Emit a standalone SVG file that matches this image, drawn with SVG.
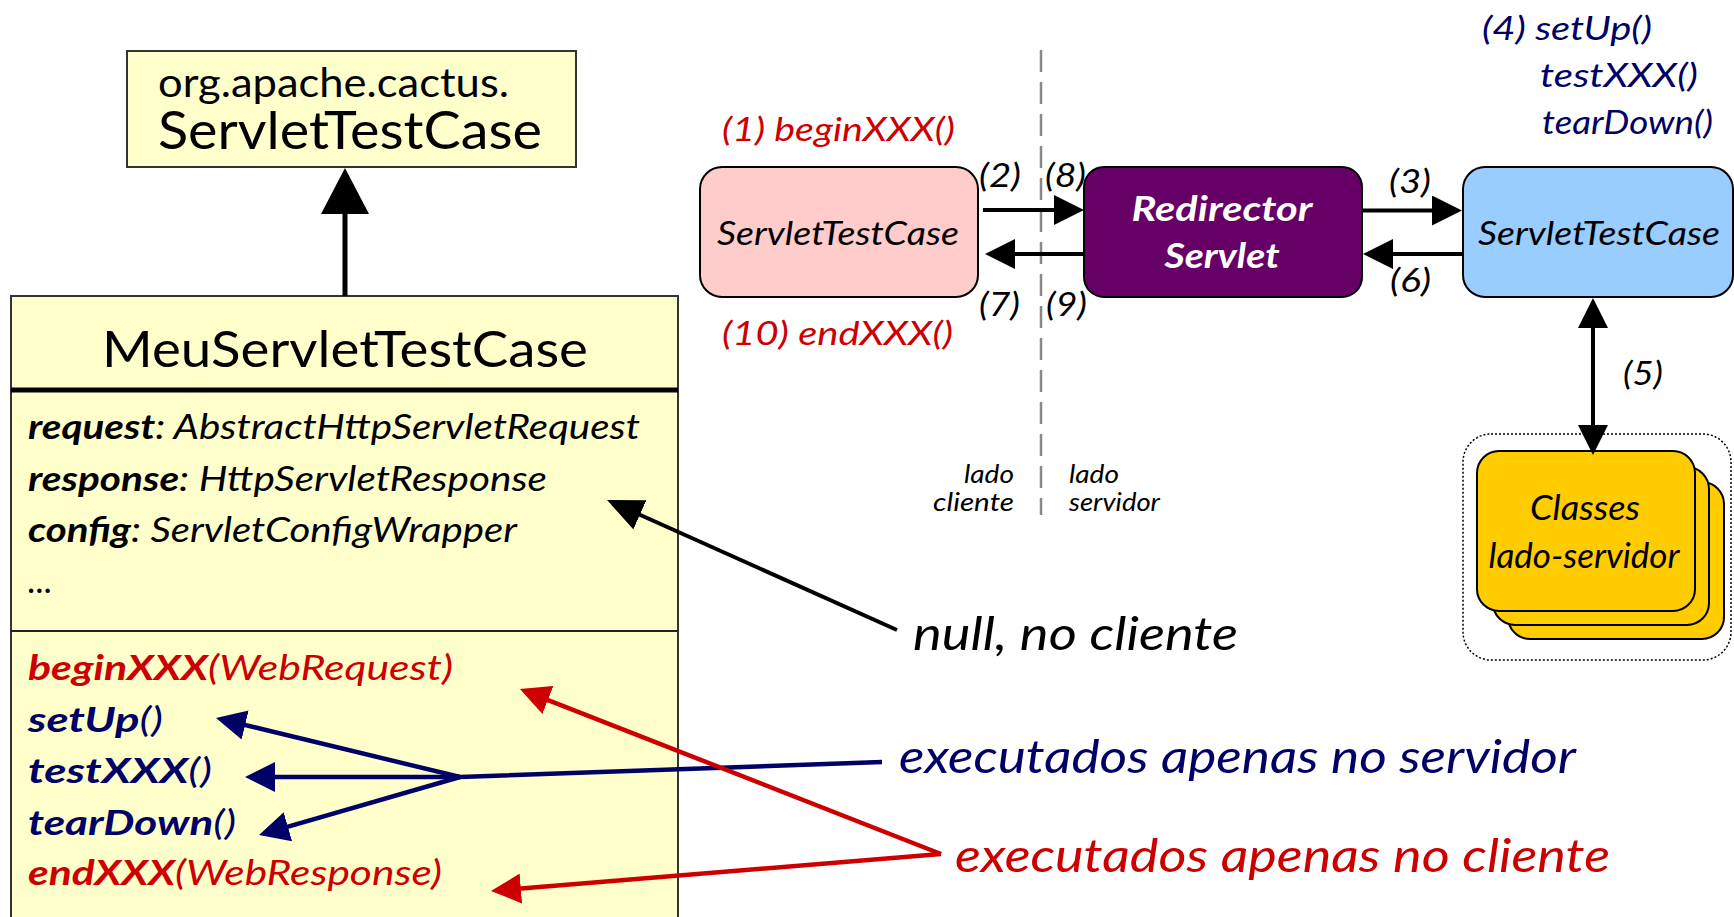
<svg xmlns="http://www.w3.org/2000/svg" width="1734" height="917" viewBox="0 0 1734 917">
<style>
text{font-family:Lato,"Open Sans","DejaVu Sans",sans-serif;}
.it{font-style:italic;}
.b{font-weight:bold;}
.box{fill:#FFFFCC;stroke:#333;stroke-width:2;}
.rnd{stroke:#000;stroke-width:2;}
.blk{stroke:#000;stroke-width:4;fill:none;}
.navy{fill:#000066;}
.red{fill:#CC0000;}
.nl{stroke:#000066;stroke-width:4.5;fill:none;}
.rl{stroke:#CC0000;stroke-width:4.5;fill:none;}
.num{font-style:italic;font-size:32px;fill:#000;}
</style>
<defs>
<marker id="inh" markerUnits="userSpaceOnUse" markerWidth="46" markerHeight="48" refX="14" refY="24" orient="auto"><path d="M0,0 L46,24 L0,48 z" fill="#000"/></marker>
<marker id="ab" markerUnits="userSpaceOnUse" markerWidth="30" markerHeight="30" refX="6" refY="15" orient="auto-start-reverse"><path d="M0,0 L30,15 L0,30 z" fill="#000"/></marker>
<marker id="ap" markerUnits="userSpaceOnUse" markerWidth="36" markerHeight="32" refX="8" refY="16" orient="auto"><path d="M0,0 L36,16 L0,32 z" fill="#000"/></marker>
<marker id="an" markerUnits="userSpaceOnUse" markerWidth="30" markerHeight="30" refX="6" refY="15" orient="auto"><path d="M0,0 L30,15 L0,30 z" fill="#000066"/></marker>
<marker id="ar" markerUnits="userSpaceOnUse" markerWidth="30" markerHeight="30" refX="6" refY="15" orient="auto"><path d="M0,0 L30,15 L0,30 z" fill="#CC0000"/></marker>
</defs>

<g id="superclass">
<rect class="box" x="127" y="51" width="449" height="116" stroke-width="1.5"/>
<text x="158" y="97" font-size="40" textLength="351" lengthAdjust="spacingAndGlyphs">org.apache.cactus.</text>
<text x="158" y="149" font-size="53" textLength="384" lengthAdjust="spacingAndGlyphs">ServletTestCase</text>
</g>

<g id="meuservlettestcase">
<rect class="box" x="11" y="296" width="667" height="640"/>
<line x1="11" y1="390" x2="678" y2="390" stroke="#000" stroke-width="5"/>
<line x1="11" y1="631" x2="678" y2="631" stroke="#222" stroke-width="2"/>
<text x="345" y="367" font-size="50" text-anchor="middle" textLength="486" lengthAdjust="spacingAndGlyphs">MeuServletTestCase</text>
<text class="it" x="28" y="439" font-size="35" textLength="612" lengthAdjust="spacingAndGlyphs"><tspan class="b">request</tspan>: AbstractHttpServletRequest</text>
<text class="it" x="28" y="491" font-size="35" textLength="519" lengthAdjust="spacingAndGlyphs"><tspan class="b">response</tspan>: HttpServletResponse</text>
<text class="it" x="28" y="542" font-size="35" textLength="489" lengthAdjust="spacingAndGlyphs"><tspan class="b">config</tspan>: ServletConfigWrapper</text>
<text class="it" x="28" y="593" font-size="35">...</text>
<text class="it red" x="28" y="680" font-size="35" textLength="425" lengthAdjust="spacingAndGlyphs"><tspan class="b">beginXXX</tspan>(WebRequest)</text>
<text class="it navy" x="28" y="732" font-size="35" textLength="135" lengthAdjust="spacingAndGlyphs"><tspan class="b">setUp</tspan>()</text>
<text class="it navy" x="28" y="783" font-size="35" textLength="184" lengthAdjust="spacingAndGlyphs"><tspan class="b">testXXX</tspan>()</text>
<text class="it navy" x="28" y="835" font-size="35" textLength="208" lengthAdjust="spacingAndGlyphs"><tspan class="b">tearDown</tspan>()</text>
<text class="it red" x="28" y="885" font-size="35" textLength="414" lengthAdjust="spacingAndGlyphs"><tspan class="b">endXXX</tspan>(WebResponse)</text>
</g>

<g id="divider">
<line x1="1041" y1="50" x2="1041" y2="515" stroke="#888" stroke-width="2.5" stroke-dasharray="22 10"/>
<text class="it" x="1014" y="483" font-size="25" text-anchor="end" textLength="50" lengthAdjust="spacingAndGlyphs">lado</text>
<text class="it" x="1014" y="511" font-size="25" text-anchor="end" textLength="81" lengthAdjust="spacingAndGlyphs">cliente</text>
<text class="it" x="1069" y="483" font-size="25" textLength="50" lengthAdjust="spacingAndGlyphs">lado</text>
<text class="it" x="1069" y="511" font-size="25" textLength="91" lengthAdjust="spacingAndGlyphs">servidor</text>
</g>

<g id="client-testcase">
<rect class="rnd" x="700" y="167" width="278" height="130" rx="22" fill="#FFCCCC"/>
<text class="it" x="838" y="245" font-size="33" text-anchor="middle" textLength="242" lengthAdjust="spacingAndGlyphs">ServletTestCase</text>
<text class="it red" x="722" y="141" font-size="33" textLength="233" lengthAdjust="spacingAndGlyphs">(1) beginXXX()</text>
<text class="it red" x="722" y="345" font-size="33" textLength="231" lengthAdjust="spacingAndGlyphs">(10) endXXX()</text>
</g>

<g id="redirector">
<rect class="rnd" x="1084" y="167" width="278" height="130" rx="20" fill="#660066"/>
<text class="it b" x="1222" y="221" font-size="34" fill="#fff" text-anchor="middle" textLength="181" lengthAdjust="spacingAndGlyphs">Redirector</text>
<text class="it b" x="1222" y="268" font-size="34" fill="#fff" text-anchor="middle" textLength="115" lengthAdjust="spacingAndGlyphs">Servlet</text>
</g>

<g id="server-testcase">
<rect class="rnd" x="1463" y="167" width="270" height="130" rx="22" fill="#99CCFF"/>
<text class="it" x="1599" y="245" font-size="33" text-anchor="middle" textLength="242" lengthAdjust="spacingAndGlyphs">ServletTestCase</text>
<text class="it navy" x="1482" y="40" font-size="33" textLength="170" lengthAdjust="spacingAndGlyphs">(4) setUp()</text>
<text class="it navy" x="1540" y="87" font-size="33" textLength="158" lengthAdjust="spacingAndGlyphs">testXXX()</text>
<text class="it navy" x="1542" y="134" font-size="33" textLength="171" lengthAdjust="spacingAndGlyphs">tearDown()</text>
</g>

<g id="server-classes">
<rect x="1463" y="434" width="268" height="226" rx="28" fill="none" stroke="#000" stroke-width="1.5" stroke-dasharray="2 2"/>
<rect class="rnd" x="1508" y="482" width="216" height="157" rx="22" fill="#FFCC00"/>
<rect class="rnd" x="1493" y="467" width="216" height="158" rx="22" fill="#FFCC00"/>
<rect class="rnd" x="1477" y="451" width="218" height="160" rx="22" fill="#FFCC00"/>
<text class="it" x="1585" y="520" font-size="34" text-anchor="middle" textLength="110" lengthAdjust="spacingAndGlyphs">Classes</text>
<text class="it" x="1584" y="568" font-size="34" text-anchor="middle" textLength="191" lengthAdjust="spacingAndGlyphs">lado-servidor</text>
</g>

<g id="notes">
<text class="it" x="913" y="650" font-size="46" textLength="325" lengthAdjust="spacingAndGlyphs">null, no cliente</text>
<text class="it navy" x="899" y="773" font-size="46" textLength="677" lengthAdjust="spacingAndGlyphs">executados apenas no servidor</text>
<text class="it red" x="955" y="872" font-size="46" textLength="655" lengthAdjust="spacingAndGlyphs">executados apenas no cliente</text>
</g>

<g id="connectors">
<path d="M345,296 L345,200" stroke="#000" stroke-width="5" fill="none" marker-end="url(#inh)"/>
<path class="blk" d="M983,210 L1060,210" marker-end="url(#ab)"/>
<path class="blk" d="M1084,254 L1009,254" marker-end="url(#ab)"/>
<path class="blk" d="M1362,210.5 L1438,210.5" marker-end="url(#ab)"/>
<path class="blk" d="M1463,254 L1387,254" marker-end="url(#ab)"/>
<path class="blk" d="M1593,322 L1593,431" stroke-width="5" marker-start="url(#ab)" marker-end="url(#ab)"/>
<path class="blk" d="M897,630 L632.6,511.5" marker-end="url(#ap)"/>
<path class="nl" d="M882,762 L460,777 L239.3,723.6" marker-end="url(#an)"/>
<path class="nl" d="M460,777 L269,777" marker-end="url(#an)"/>
<path class="nl" d="M460,777 L282.1,828.4" marker-end="url(#an)"/>
<path class="rl" d="M941,854 L542.3,697.8" marker-end="url(#ar)"/>
<path class="rl" d="M941,854 L514.9,889" marker-end="url(#ar)"/>
<text class="num" x="979" y="187" textLength="42" lengthAdjust="spacingAndGlyphs">(2)</text>
<text class="num" x="1045" y="187" textLength="41" lengthAdjust="spacingAndGlyphs">(8)</text>
<text class="num" x="979" y="316" textLength="41" lengthAdjust="spacingAndGlyphs">(7)</text>
<text class="num" x="1046" y="316" textLength="41" lengthAdjust="spacingAndGlyphs">(9)</text>
<text class="num" x="1389" y="193" textLength="42" lengthAdjust="spacingAndGlyphs">(3)</text>
<text class="num" x="1390" y="292" textLength="41" lengthAdjust="spacingAndGlyphs">(6)</text>
<text class="num" x="1623" y="385" textLength="40" lengthAdjust="spacingAndGlyphs">(5)</text>
</g>
</svg>
